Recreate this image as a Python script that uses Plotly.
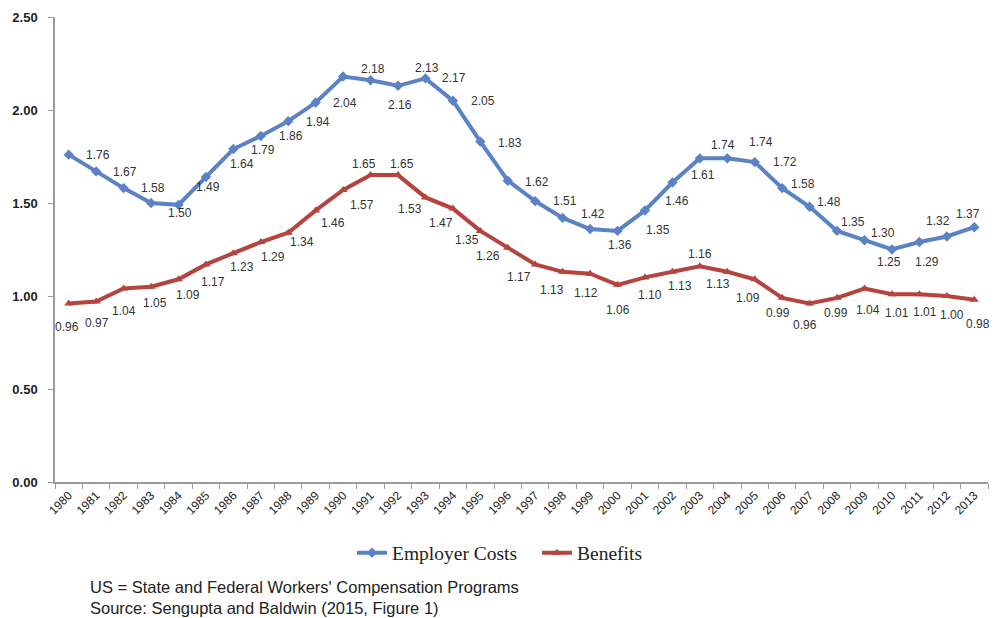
import plotly.graph_objects as go

years = [str(y) for y in range(1980, 2014)]
employer_costs = [1.76, 1.67, 1.58, 1.50, 1.49, 1.64, 1.79, 1.86, 1.94, 2.04, 2.18, 2.16, 2.13, 2.17,
                  2.05, 1.83, 1.62, 1.51, 1.42, 1.36, 1.35, 1.46, 1.61, 1.74, 1.74, 1.72, 1.58, 1.48,
                  1.35, 1.30, 1.25, 1.29, 1.32, 1.37]
benefits = [0.96, 0.97, 1.04, 1.05, 1.09, 1.17, 1.23, 1.29, 1.34, 1.46, 1.57, 1.65, 1.65, 1.53,
            1.47, 1.35, 1.26, 1.17, 1.13, 1.12, 1.06, 1.10, 1.13, 1.16, 1.13, 1.09, 0.99, 0.96,
            0.99, 1.04, 1.01, 1.01, 1.00, 0.98]
y_ticks = [0, 0.5, 1.0, 1.5, 2.0, 2.5]

# label offsets in pixels (dx right, dy down) relative to each point
emp_off = [(29, 0), (29, 1), (29, 0), (29, 10), (30, -18), (36, -13), (30, 1), (30, 0), (30, 1),
           (29, 0), (30, -8), (29, 25), (29, -18), (29, 0), (30, 0), (30, 1), (29, 1), (30, 0),
           (30, -4), (30, 16), (40, -1), (32, -9), (31, -8), (23, -13), (34, -16), (30, 0),
           (21, -4), (19, -5), (16, -9), (18, -7), (-3, 12), (8, 20), (-9, -15), (-6, -13)]
ben_off = [(-2, 24), (1, 21), (0, 22), (4, 16), (10, 16), (7, 18), (9, 14), (12, 15), (14, 9),
           (17, 13), (19, 15), (-7, -11), (4, -11), (-15, 12), (-12, 14), (-13, 9), (-20, 8),
           (-16, 13), (-11, 18), (-4, 19), (0, 25), (5, 18), (8, 14), (0, -12), (-9, 12),
           (-7, 19), (-4, 15), (-5, 22), (-1, 15), (3, 21), (5, 19), (6, 18), (5, 19), (4, 24)]

blue = "#5B82C4"
red = "#B5443F"

# page offset of 8px (default body margin) is compensated in the sizes below
OFF = 8
W, H = 998 - OFF, 618 - OFF
PL, PR, PT, PB = 55, 988, 17, 482  # plot area in page pixels
plot_h = PB - PT
plot_w = PR - PL


def py(page_y):
    return -(page_y - PB) / plot_h


def px(page_x):
    return (page_x - PL) / plot_w


fig = go.Figure()
fig.add_trace(go.Scatter(x=years, y=employer_costs, name="Employer Costs", mode="lines+markers",
                         line=dict(color=blue, width=4),
                         marker=dict(symbol="diamond", size=8, color=blue)))
fig.add_trace(go.Scatter(x=years, y=benefits, name="Benefits", mode="lines+markers",
                         line=dict(color=red, width=4),
                         marker=dict(symbol="triangle-up", size=8, color=red)))

annotations = []
for series, offs in ((employer_costs, emp_off), (benefits, ben_off)):
    for i, (v, (dx, dy)) in enumerate(zip(series, offs)):
        annotations.append(dict(x=i, y=v, xref="x", yref="y", text=f"{v:.2f}", showarrow=False,
                                xshift=dx, yshift=-dy,
                                font=dict(family="Arial, Liberation Sans", size=12, color="#333333")))

annotations.append(dict(text="US = State and Federal Workers' Compensation Programs<br>Source: Sengupta and Baldwin (2015, Figure 1)",
                        xref="paper", yref="paper", x=px(88), y=py(597),
                        xanchor="left", yanchor="middle", align="left", showarrow=False,
                        font=dict(family="Arial, Liberation Sans", size=16.5, color="#222222")))

fig.update_layout(
    annotations=annotations,
    width=W, height=H,
    margin=dict(l=PL - OFF, r=W - (PR - OFF), t=PT - OFF, b=H - (PB - OFF)),
    paper_bgcolor="white", plot_bgcolor="white",
    showlegend=True,
    legend=dict(orientation="h", x=px(352), xanchor="left", y=py(553), yanchor="middle",
                font=dict(family="Liberation Serif, Times New Roman", size=19.5, color="#222222"),
                itemwidth=30, tracegroupgap=0, entrywidth=140, entrywidthmode="pixels"),
    xaxis=dict(type="category", range=[-0.5, len(years) - 0.5], autorange=False, automargin=False,
               showline=True, linecolor="#9a9a9a", linewidth=1.5,
               ticks="outside", ticklen=5, tickcolor="#9a9a9a", tickson="boundaries",
               tickangle=-45, showgrid=False, zeroline=False,
               tickfont=dict(family="Arial, Liberation Sans", size=12, color="#222222")),
    yaxis=dict(range=[0, 2.5], autorange=False, automargin=False, tickvals=y_ticks,
               ticktext=[f"<b>{t:.2f}</b>" for t in y_ticks],
               showline=True, linecolor="#9a9a9a", linewidth=1.5, ticks="outside", ticklen=5,
               tickcolor="#9a9a9a", showgrid=False, zeroline=False, ticklabelstandoff=8,
               tickfont=dict(family="Arial, Liberation Sans", size=13, color="#222222")),
)

fig.write_html("out.html")
